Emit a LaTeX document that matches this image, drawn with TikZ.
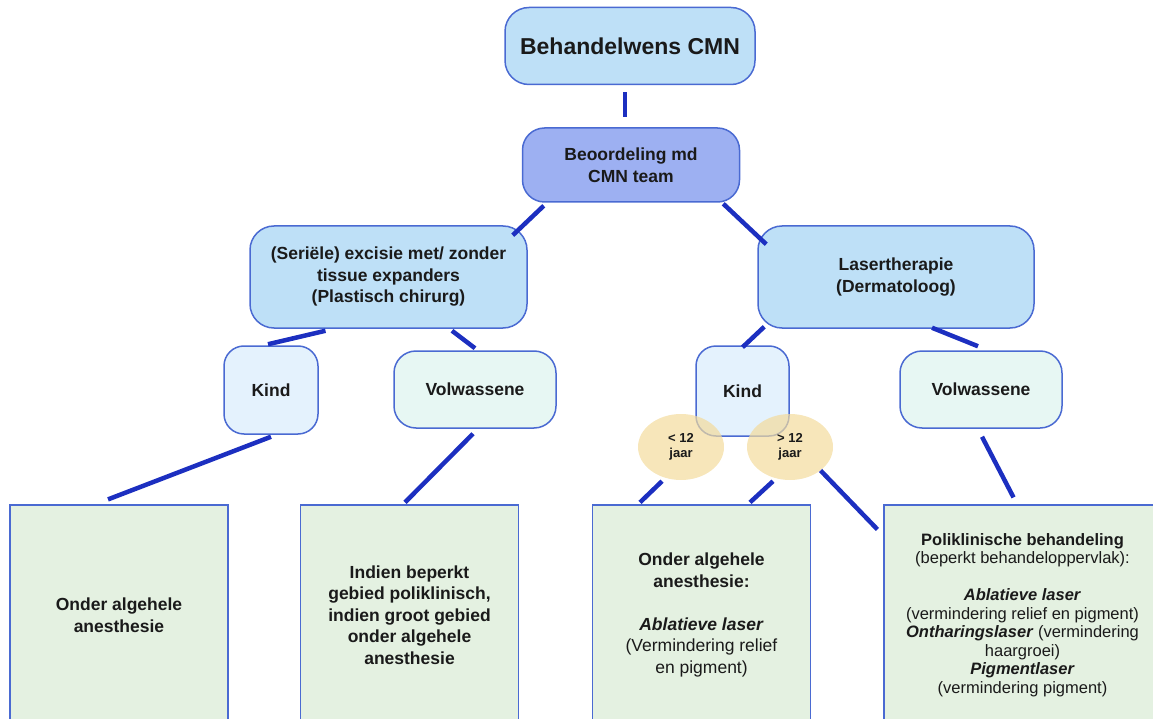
\documentclass[tikz,border=0pt]{standalone}
\usepackage{fontspec}
\setmainfont{Liberation Sans}
\usetikzlibrary{shapes.geometric}
\definecolor{lijn}{HTML}{1C2FC0}
\definecolor{rand}{HTML}{4A6AD2}
\definecolor{hemel}{HTML}{BEE0F7}
\definecolor{paars}{HTML}{9DB0F2}
\definecolor{kindkl}{HTML}{E4F2FD}
\definecolor{volwkl}{HTML}{E7F7F3}
\definecolor{oker}{HTML}{F3DB9C}
\definecolor{groen}{HTML}{E4F1E1}
\definecolor{tekst}{HTML}{1A1A1A}
\begin{document}
\begin{tikzpicture}[x=1pt, y=-1pt,
  blok/.style={draw=rand, line width=1.5pt, rounded corners=24pt, align=center, inner sep=0pt,
    text=tekst, font=\bfseries\fontsize{17.5}{21.5}\selectfont},
  leeftijd/.style={ellipse, fill=oker, fill opacity=0.7, text opacity=1, minimum width=86pt,
    minimum height=66pt, inner sep=0pt, align=center, text=tekst, font=\bfseries\fontsize{13}{14.5}\selectfont},
  uitkomst/.style={draw=rand, line width=1.2pt, fill=groen, minimum width=218pt, minimum height=220pt,
    inner sep=0pt, align=center, text=tekst, font=\fontsize{17.5}{21.5}\selectfont},
  verbind/.style={draw=lijn, line width=4.5pt}]
  \useasboundingbox (0,0) rectangle (1153,719);
  \clip (0,0) rectangle (1153,719);

  \node[blok, fill=hemel, minimum width=250pt, minimum height=77pt, font=\bfseries\fontsize{23}{27}\selectfont] (wens) at (630,46) {Behandelwens CMN};
  \node[blok, fill=paars, minimum width=217pt, minimum height=74pt, rounded corners=22pt] (beoord) at (631,165) {Beoordeling md\\CMN team};
  \node[blok, fill=hemel, minimum width=277pt, minimum height=102pt] (excisie) at (388.5,277) {(Seriële) excisie met/ zonder\\tissue expanders\\(Plastisch chirurg)};
  \node[blok, fill=hemel, minimum width=276pt, minimum height=102pt] (laser) at (896,277) {Lasertherapie\\(Dermatoloog)};
  \node[blok, fill=kindkl, minimum width=94pt, minimum height=88pt, rounded corners=20pt] (kindL) at (271,390) {Kind};
  \node[blok, fill=volwkl, minimum width=162pt, minimum height=77pt, rounded corners=22pt] (volwL) at (475,389.5) {Volwassene};
  \node[blok, fill=kindkl, minimum width=93pt, minimum height=90pt, rounded corners=20pt] (kindR) at (742.5,391) {Kind};
  \node[blok, fill=volwkl, minimum width=162pt, minimum height=77pt, rounded corners=22pt] (volwR) at (981,389.5) {Volwassene};
  \node[leeftijd] (jong) at (681,447) {< 12\\jaar};
  \node[leeftijd] (oud) at (790,447) {> 12\\jaar};

  \node[uitkomst, font=\bfseries\fontsize{17.5}{21.5}\selectfont] (outA) at (119,615) {Onder algehele\\anesthesie};
  \node[uitkomst, font=\bfseries\fontsize{17.5}{21.5}\selectfont] (outB) at (409.5,615) {Indien beperkt\\gebied poliklinisch,\\indien groot gebied\\onder algehele\\anesthesie};
  \node[uitkomst] (outC) at (701.5,615) {\textbf{Onder algehele}\\\textbf{anesthesie:}\\[21.5pt]\textbf{\itshape Ablatieve laser}\\(Vermindering relief\\en pigment)};
  \node[uitkomst, minimum width=277pt, font=\fontsize{16.5}{18.5}\selectfont] (outD) at (1022.5,615) {\textbf{Poliklinische behandeling}\\(beperkt behandeloppervlak):\\[18.5pt]\textbf{\itshape Ablatieve laser}\\(vermindering relief en pigment)\\\textbf{\itshape Ontharingslaser} (vermindering\\haargroei)\\\textbf{\itshape Pigmentlaser}\\(vermindering pigment)};

  \draw[verbind] ([xshift=-5pt,yshift=-7pt]wens.south) -- ([xshift=-6pt,yshift=10pt]beoord.north);
  \draw[verbind] ([xshift=22pt,yshift=-3pt]beoord.south west) -- ([xshift=-15pt,yshift=-10pt]excisie.north east);
  \draw[verbind] ([xshift=-17pt,yshift=-1pt]beoord.south east) -- ([xshift=9pt,yshift=-19pt]laser.north west);
  \draw[verbind] ([xshift=-63pt,yshift=-2pt]excisie.south) -- ([xshift=-3pt,yshift=1pt]kindL.north);
  \draw[verbind] ([xshift=63.5pt,yshift=-2pt]excisie.south) -- ([yshift=2pt]volwL.north);
  \draw[verbind] ([xshift=7pt,yshift=2pt]laser.south west) -- ([yshift=-2pt]kindR.north);
  \draw[verbind] ([xshift=36pt,yshift=1pt]laser.south) -- ([xshift=-3pt,yshift=4pt]volwR.north);
  \draw[verbind] ([yshift=-2pt]kindL.south) -- ([xshift=-11pt,yshift=5pt]outA.north);
  \draw[verbind] ([xshift=-2pt,yshift=-5pt]volwL.south) -- ([xshift=-4.5pt,yshift=2pt]outB.north);
  \draw[verbind] ([xshift=-19pt,yshift=-1pt]jong.south) -- ([xshift=-61.5pt,yshift=2pt]outC.north);
  \draw[verbind] ([xshift=-17pt,yshift=-1pt]oud.south) -- ([xshift=48.5pt,yshift=2pt]outC.north);
  \draw[verbind] (oud.south east) -- ([xshift=-6pt,yshift=-25pt]outD.north west);
  \draw[verbind] ([xshift=1pt,yshift=-8pt]volwR.south) -- ([xshift=-9pt,yshift=7pt]outD.north);
\end{tikzpicture}
\end{document}
